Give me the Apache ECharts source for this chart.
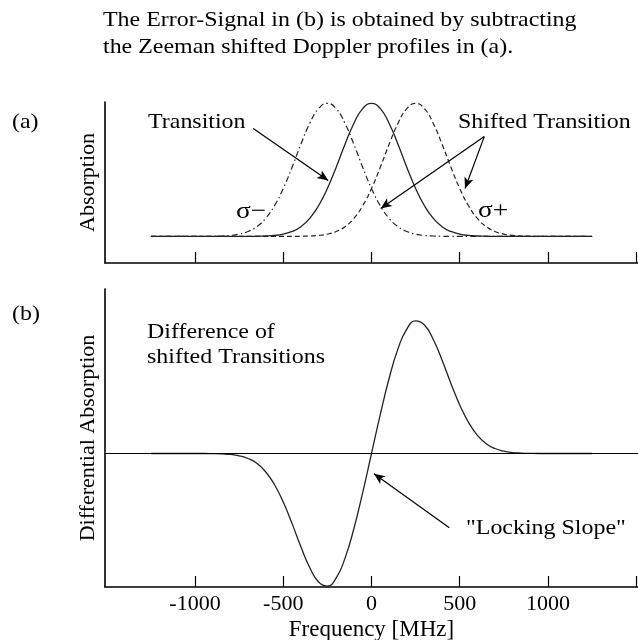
<!DOCTYPE html>
<html>
<head>
<meta charset="utf-8">
<title>Zeeman error signal</title>
<script src="https://cdn.jsdelivr.net/npm/echarts@6/dist/echarts.min.js"></script>
<style>
  html, body { margin: 0; padding: 0; background: #fff; }
  #chart { width: 638px; height: 640px; }
</style>
</head>
<body>
<div id="chart"></div>
<script>
// frequency grid in MHz
const freq = [-1250, -1200, -1150, -1100, -1050, -1000, -950, -900, -850, -800, -750, -700, -650, -600, -550, -500, -450, -400, -350, -300, -250, -200, -150, -100, -50, 0, 50, 100, 150, 200, 250, 300, 350, 400, 450, 500, 550, 600, 650, 700, 750, 800, 850, 900, 950, 1000, 1050, 1100, 1150, 1200, 1250]

// (a) absorption profiles, peak = 1
const transition = [0, 0, 0, 0, 0, 0, 0, 0, 0, 0, 0, 0, 0.001, 0.003, 0.007, 0.017, 0.037, 0.073, 0.135, 0.23, 0.36, 0.52, 0.693, 0.849, 0.96, 1, 0.96, 0.849, 0.693, 0.52, 0.36, 0.23, 0.135, 0.073, 0.037, 0.017, 0.007, 0.003, 0.001, 0, 0, 0, 0, 0, 0, 0, 0, 0, 0, 0, 0]
const sigmaMinus = [0, 0, 0, 0, 0, 0, 0, 0.001, 0.003, 0.007, 0.017, 0.037, 0.073, 0.135, 0.23, 0.36, 0.52, 0.693, 0.849, 0.96, 1, 0.96, 0.849, 0.693, 0.52, 0.36, 0.23, 0.135, 0.073, 0.037, 0.017, 0.007, 0.003, 0.001, 0, 0, 0, 0, 0, 0, 0, 0, 0, 0, 0, 0, 0, 0, 0, 0, 0]
const sigmaPlus = [0, 0, 0, 0, 0, 0, 0, 0, 0, 0, 0, 0, 0, 0, 0, 0, 0, 0.001, 0.003, 0.007, 0.017, 0.037, 0.073, 0.135, 0.23, 0.36, 0.52, 0.693, 0.849, 0.96, 1, 0.96, 0.849, 0.693, 0.52, 0.36, 0.23, 0.135, 0.073, 0.037, 0.017, 0.007, 0.003, 0.001, 0, 0, 0, 0, 0, 0, 0]

// (b) differential absorption (sigma+ minus sigma-)
const difference = [0, 0, 0, 0, 0, 0, 0, -0.001, -0.003, -0.007, -0.017, -0.037, -0.073, -0.135, -0.23, -0.36, -0.52, -0.692, -0.846, -0.953, -0.983, -0.923, -0.776, -0.558, -0.29, 0, 0.29, 0.558, 0.776, 0.923, 0.983, 0.953, 0.846, 0.692, 0.52, 0.36, 0.23, 0.135, 0.073, 0.037, 0.017, 0.007, 0.003, 0.001, 0, 0, 0, 0, 0, 0, 0]

// axis ticks / labels
const tickValues = [-1000, -500, 0, 500, 1000, 1500]
const labelValues = [-1000, -500, 0, 500, 1000]

const FONT = 'Liberation Serif, Times New Roman, serif'
const INK = '#000'

const pairs = (ys) => freq.map((f, i) => [f, ys[i]])

function xAxisFor(gridIndex, withLabels) {
  return {
    type: 'value',
    gridIndex: gridIndex,
    min: -1510,
    max: 1510,
    axisLine: { show: true, onZero: false, lineStyle: { color: INK, width: 1.6 } },
    axisTick: { show: true, inside: true, length: 11, customValues: tickValues, lineStyle: { color: INK, width: 1.2 } },
    axisLabel: withLabels
      ? { show: true, customValues: labelValues, formatter: (v) => String(v), fontFamily: FONT, fontSize: 22, color: INK, margin: 6 }
      : { show: false },
    splitLine: { show: false },
    name: withLabels ? 'Frequency [MHz]' : '',
    nameLocation: 'middle',
    nameGap: 31,
    nameTextStyle: { fontFamily: FONT, fontSize: 23, color: INK }
  }
}

function yAxisFor(gridIndex, name, min, max) {
  return {
    type: 'value',
    gridIndex: gridIndex,
    min: min,
    max: max,
    axisLine: { show: true, onZero: false, lineStyle: { color: INK, width: 1.6 } },
    axisTick: { show: false },
    axisLabel: { show: false },
    splitLine: { show: false },
    name: name,
    nameLocation: 'middle',
    nameGap: 6,
    nameTextStyle: { fontFamily: FONT, fontSize: 22, color: INK }
  }
}

// arrows are drawn in data coordinates
const arrowStyle = {
  silent: true,
  symbol: ['none', 'arrow'],
  symbolSize: [7, 11],
  label: { show: false },
  lineStyle: { type: 'solid', color: INK, width: 1.2 }
}

// the figure's lettering is a little wider than it is tall
function text(x, y, str, size) {
  return {
    type: 'text',
    x: x,
    y: y,
    scaleX: 1.14,
    style: { text: str, font: (size || 21) + 'px ' + FONT, fill: INK, textVerticalAlign: 'middle' }
  }
}

const chart = echarts.init(document.getElementById('chart'), null, { renderer: 'canvas' })

chart.setOption({
  animation: false,
  backgroundColor: '#fff',
  // fixed panel boxes, don't let the axis text shrink them
  grid: [
    { left: 105, right: 0, top: 102, height: 161, outerBoundsMode: 'none' },
    { left: 105, right: 0, top: 289, height: 298, outerBoundsMode: 'none' }
  ],
  xAxis: [xAxisFor(0, false), xAxisFor(1, true)],
  yAxis: [
    yAxisFor(0, 'Absorption', -0.2, 1.01),
    yAxisFor(1, 'Differential Absorption', -0.99, 1.22)
  ],
  series: [
    {
      name: 'Transition',
      type: 'line',
      xAxisIndex: 0,
      yAxisIndex: 0,
      data: pairs(transition),
      smooth: true,
      symbol: 'none',
      lineStyle: { color: '#222', width: 1.3 },
      markLine: Object.assign({}, arrowStyle, {
        data: [
          [{ coord: [-670, 0.81] }, { coord: [-245, 0.42] }],
          [{ coord: [639, 0.75] }, { coord: [52, 0.21] }],
          [{ coord: [639, 0.75] }, { coord: [530, 0.36] }]
        ]
      })
    },
    {
      name: 'sigma-',
      type: 'line',
      xAxisIndex: 0,
      yAxisIndex: 0,
      data: pairs(sigmaMinus),
      smooth: true,
      symbol: 'none',
      lineStyle: { color: '#222', width: 1.2, type: [6, 3, 1.5, 3] }
    },
    {
      name: 'sigma+',
      type: 'line',
      xAxisIndex: 0,
      yAxisIndex: 0,
      data: pairs(sigmaPlus),
      smooth: true,
      symbol: 'none',
      lineStyle: { color: '#222', width: 1.2, type: [5, 3] }
    },
    {
      name: 'Difference',
      type: 'line',
      xAxisIndex: 1,
      yAxisIndex: 1,
      data: pairs(difference),
      smooth: true,
      symbol: 'none',
      lineStyle: { color: '#222', width: 1.3 },
      markLine: Object.assign({}, arrowStyle, {
        data: [
          // zero line across the whole panel, no arrow heads
          [{ coord: [-1510, 0], symbol: 'none' }, { coord: [1510, 0], symbol: 'none' }],
          // locking slope arrow
          [{ coord: [441, -0.55] }, { coord: [14, -0.15] }]
        ]
      })
    }
  ],
  graphic: [
    text(103, 20, 'The Error-Signal in (b) is obtained by subtracting'),
    text(103, 47, 'the Zeeman shifted Doppler profiles in (a).'),
    text(12, 122, '(a)'),
    text(12, 314, '(b)'),
    text(148, 122, 'Transition'),
    text(458, 122, 'Shifted Transition'),
    text(236, 212, 'σ\u2212', 24),
    text(478, 211, 'σ+', 24),
    text(147, 332, 'Difference of'),
    text(147, 357, 'shifted Transitions'),
    text(466, 528, '"Locking Slope"')
  ]
})
</script>
</body>
</html>
